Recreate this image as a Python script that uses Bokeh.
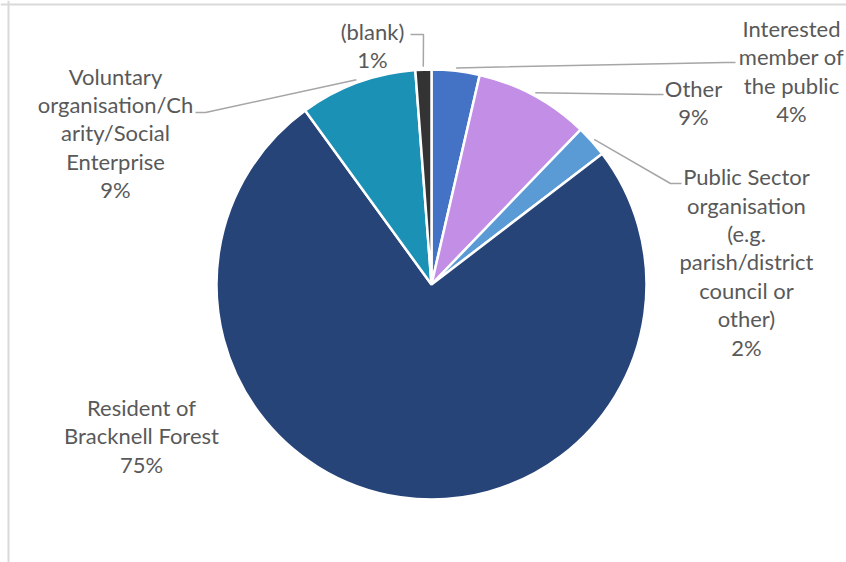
import math
from bokeh.plotting import figure
from bokeh.models import Range1d, Span, ColumnDataSource
from bokeh.core.properties import value
from bokeh.embed import file_html
from bokeh.resources import INLINE

# ---- data ----
categories = [
    "Interested member of the public",
    "Other",
    "Public Sector organisation (e.g. parish/district council or other)",
    "Resident of Bracknell Forest",
    "Voluntary organisation/Charity/Social Enterprise",
    "(blank)",
]
label_lines = [
    "Interested\nmember of\nthe public",
    "Other",
    "Public Sector\norganisation\n(e.g.\nparish/district\ncouncil or\nother)",
    "Resident of\nBracknell Forest",
    "Voluntary\norganisation/Ch\narity/Social\nEnterprise",
    "(blank)",
]
shares = [3.6, 8.6, 2.4, 75.4, 8.8, 1.2]
colors = ["#4472C4", "#C28EE6", "#5B9BD5", "#264478", "#1B91B5", "#333333"]

# ---- layout (pixel space of the figure, y measured from top of image) ----
W, H = 846, 562
LEFT, TOP = 0, 0
def X(ix): return ix - LEFT
def Y(iy): return H - (iy - TOP)

cx, cy, R = X(431), Y(284), 215
label_pos = [(791, 70.5), (693, 102), (746, 261.5), (141, 435.5), (115, 132.5), (372, 45)]
# leader: (elbow, end) in image coords; None = no leader
leaders = [((725, 62), (735, 62)), ((653, 94), (663, 94)), ((670, 183), (681, 183)),
           None, ((205, 112), (195, 112)), ((423, 34), (410, 34))]

total = sum(shares)
starts, ends, mids = [], [], []
cum = 0.0
for v in shares:
    a0 = cum / total
    cum += v
    a1 = cum / total
    starts.append(math.pi / 2 - 2 * math.pi * a1)
    ends.append(math.pi / 2 - 2 * math.pi * a0)
    mids.append(math.pi / 2 - 2 * math.pi * (a0 + a1) / 2)

p = figure(width=W, height=H, output_backend="svg", toolbar_location=None,
           x_range=Range1d(0, W), y_range=Range1d(0, H), min_border=0,
           outline_line_color=None, background_fill_color="white")
p.axis.visible = False
p.grid.visible = False

src = ColumnDataSource(dict(start=starts, end=ends, color=colors, cat=categories))
p.wedge(x=cx, y=cy, radius=R, start_angle="start", end_angle="end",
        fill_color="color", line_color="white", line_width=2.5, source=src)

xs, ys = [], []
for m, ld in zip(mids, leaders):
    if ld is None:
        continue
    sx = cx + (R + 3) * math.cos(m)
    sy = cy + (R + 3) * math.sin(m)
    (ex, ey), (fx, fy) = ld
    xs.append([sx, X(ex), X(fx)])
    ys.append([sy, Y(ey), Y(fy)])
p.multi_line(xs, ys, line_color="#A6A6A6", line_width=1.5)

texts = [f"{t}\n{round(v / total * 100)}%" for t, v in zip(label_lines, shares)]
p.text(x=[X(a) for a, b in label_pos], y=[Y(b) for a, b in label_pos], text=texts,
       text_align="center", text_baseline="middle", text_font=value("Lato"),
       text_font_size="22px", text_color="#595959", text_line_height=1.05)

p.add_layout(Span(location=Y(4), dimension="width", line_color="#D9D9D9", line_width=2))
p.add_layout(Span(location=X(8), dimension="height", line_color="#D9D9D9", line_width=2))

open("out.html", "w").write(file_html(p, INLINE))
